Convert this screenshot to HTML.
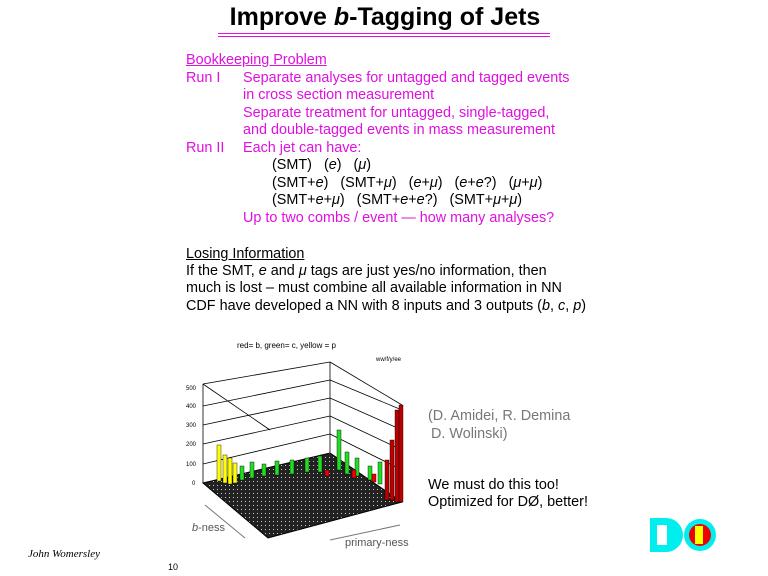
<!DOCTYPE html>
<html><head><meta charset="utf-8"><style>
body{margin:0;width:768px;height:576px;background:#fff;position:relative;overflow:hidden;font-family:"Liberation Sans",sans-serif}
.t{position:absolute;font-size:14.4px;color:#e010e0;white-space:nowrap;line-height:16px}
.k{color:#000}
.g{color:#777}
</style></head><body>
<div style="position:absolute;left:0;width:770px;top:3px;text-align:center;font-weight:bold;font-size:25px">Improve <i>b</i>-Tagging of Jets</div>
<div style="position:absolute;left:218px;width:332px;top:33px;height:1px;background:#e010e0"></div>
<div style="position:absolute;left:218px;width:332px;top:36px;height:1px;background:#e010e0"></div>
<div class="t" style="left:186px;top:52px;text-decoration:underline">Bookkeeping Problem</div>
<div class="t" style="left:186px;top:70px">Run I</div>
<div class="t" style="left:243px;top:70px">Separate analyses for untagged and tagged events</div>
<div class="t" style="left:243px;top:87px">in cross section measurement</div>
<div class="t" style="left:243px;top:105px">Separate treatment for untagged, single-tagged,</div>
<div class="t" style="left:243px;top:122px">and double-tagged events in mass measurement</div>
<div class="t" style="left:186px;top:140px">Run II</div>
<div class="t" style="left:243px;top:140px">Each jet can have:</div>
<div class="t k" style="left:272px;top:157px">(SMT) &nbsp; (<i>e</i>) &nbsp; (<i>μ</i>)</div>
<div class="t k" style="left:272px;top:175px">(SMT+<i>e</i>) &nbsp; (SMT+<i>μ</i>) &nbsp; (<i>e</i>+<i>μ</i>) &nbsp; (<i>e</i>+<i>e</i>?) &nbsp; (<i>μ</i>+<i>μ</i>)</div>
<div class="t k" style="left:272px;top:192px">(SMT+<i>e</i>+<i>μ</i>) &nbsp; (SMT+<i>e</i>+<i>e</i>?) &nbsp; (SMT+<i>μ</i>+<i>μ</i>)</div>
<div class="t" style="left:243px;top:210px">Up to two combs / event — how many analyses?</div>
<div class="t k" style="left:186px;top:246px;text-decoration:underline">Losing Information</div>
<div class="t k" style="left:186px;top:263px">If the SMT, <i>e</i> and <i>μ</i> tags are just yes/no information, then</div>
<div class="t k" style="left:186px;top:280px">much is lost – must combine all available information in NN</div>
<div class="t k" style="left:186px;top:298px">CDF have developed a NN with 8 inputs and 3 outputs (<i>b</i>, <i>c</i>, <i>p</i>)</div>
<div class="t g" style="left:428px;top:408px">(D. Amidei, R. Demina</div>
<div class="t g" style="left:431px;top:426px">D. Wolinski)</div>
<div class="t k" style="left:428px;top:477px">We must do this too!</div>
<div class="t k" style="left:428px;top:494px">Optimized for DØ, better!</div>
<div style="position:absolute;left:28px;top:548px;font-family:'Liberation Serif',serif;font-style:italic;font-size:11px">John Womersley</div>
<div style="position:absolute;left:168px;top:562px;font-size:9px">10</div>
<svg width="768" height="576" style="position:absolute;left:0;top:0">
<defs><pattern id="d" width="4" height="4" patternUnits="userSpaceOnUse"><rect width="4" height="4" fill="#222"/><rect x="1" y="1" width="1" height="1" fill="#ccc"/></pattern></defs>
<text x="237" y="348" font-size="8" font-family="Liberation Sans">red= b, green= c, yellow = p</text>
<text x="376" y="361" font-size="6" font-family="Liberation Sans">ww/f/y/ee</text>
<g stroke="#000" stroke-width="0.8" fill="none">
<line x1="203" y1="384" x2="203" y2="483"/>
<line x1="330" y1="362" x2="330" y2="453"/>
<line x1="203" y1="384" x2="330" y2="362"/>
<line x1="330" y1="362" x2="402" y2="405"/>
<line x1="203" y1="406" x2="330" y2="380"/><line x1="330" y1="380" x2="402" y2="410"/>
<line x1="203" y1="425" x2="330" y2="398"/><line x1="330" y1="398" x2="402" y2="430"/>
<line x1="203" y1="444" x2="330" y2="416"/><line x1="330" y1="416" x2="402" y2="450"/>
<line x1="203" y1="464" x2="330" y2="434"/><line x1="330" y1="434" x2="402" y2="470"/>
<line x1="203" y1="384" x2="270" y2="430"/>
</g>
<g font-size="6" font-family="Liberation Sans"><text x="186" y="390">500</text><text x="186" y="408">400</text><text x="186" y="427">300</text><text x="186" y="446">200</text><text x="186" y="466">100</text><text x="192" y="485">0</text></g>
<polygon points="203,483 330,453 402,502 268,538" fill="url(#d)" stroke="#000"/>
<g stroke="#000" stroke-width="0.4">
<rect x="217" y="445" width="4" height="36" fill="#ff0"/><rect x="223" y="455" width="4" height="28" fill="#ff0"/><rect x="228" y="458" width="4" height="26" fill="#ff0"/><rect x="233" y="463" width="4" height="20" fill="#ff0"/>
<rect x="240" y="466" width="4" height="14" fill="#2d2"/><rect x="250" y="462" width="4" height="16" fill="#2d2"/><rect x="262" y="464" width="4" height="12" fill="#2d2"/><rect x="275" y="461" width="4" height="14" fill="#2d2"/><rect x="290" y="460" width="4" height="14" fill="#2d2"/><rect x="305" y="458" width="4" height="14" fill="#2d2"/><rect x="318" y="456" width="4" height="16" fill="#2d2"/>
<rect x="337" y="430" width="4" height="40" fill="#2d2"/><rect x="345" y="452" width="4" height="22" fill="#2d2"/><rect x="355" y="458" width="4" height="18" fill="#2d2"/><rect x="368" y="466" width="4" height="14" fill="#2d2"/><rect x="378" y="462" width="4" height="22" fill="#2d2"/>
<rect x="325" y="470" width="4" height="6" fill="#e00"/><rect x="352" y="470" width="4" height="8" fill="#e00"/><rect x="372" y="474" width="4" height="8" fill="#e00"/>
<rect x="385" y="460" width="4" height="40" fill="#b00"/>
<rect x="390" y="440" width="4" height="60" fill="#b00"/>
<rect x="395" y="410" width="4" height="92" fill="#b00"/>
<rect x="399" y="405" width="4" height="97" fill="#b00"/>
</g>
<g stroke="#777" stroke-width="1"><line x1="205" y1="505" x2="245" y2="538"/><line x1="400" y1="525" x2="330" y2="540"/></g>
<text x="192" y="531" font-size="11" fill="#555" font-family="Liberation Sans"><tspan font-style="italic">b</tspan>-ness</text>
<text x="345" y="546" font-size="11" fill="#555" font-family="Liberation Sans">primary-ness</text>
<g transform="translate(648,518)">
<path d="M2 0 h16 a16 16 0 0 1 0 34 h-16z" fill="#0ee"/>
<rect x="9" y="7" width="10" height="20" fill="#fff"/>
<circle cx="52" cy="17" r="16" fill="#0ee"/>
<circle cx="52" cy="17" r="11" fill="#e00"/>
<rect x="47" y="8" width="8" height="18" fill="#ff0"/>
</g>
</svg>
</body></html>
